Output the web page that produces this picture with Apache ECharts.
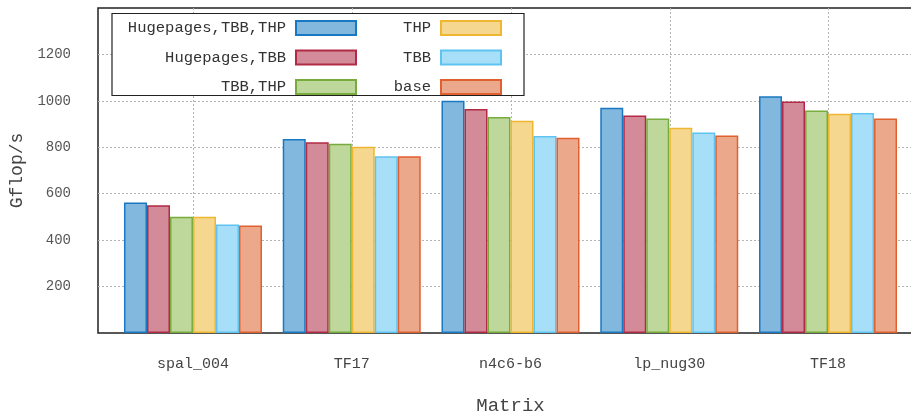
<!DOCTYPE html>
<html>
<head>
<meta charset="utf-8">
<script src="https://cdn.jsdelivr.net/npm/echarts@6/dist/echarts.min.js"></script>
<style>
  html, body { margin: 0; padding: 0; background: #fff; }
  #chart { width: 911px; height: 415px; }
</style>
</head>
<body>
<div id="chart"></div>
<script>
const matrices = ["spal_004", "TF17", "n4c6-b6", "lp_nug30", "TF18"];
const seriesNames = ["Hugepages,TBB,THP", "Hugepages,TBB", "TBB,THP", "THP", "TBB", "base"];
const hugeTbbThp = [562, 836, 1000, 970, 1020];
const hugeTbb = [550, 822, 965, 937, 997];
const tbbThp = [501, 815, 931, 924, 958];
const thp = [501, 802, 914, 884, 944];
const tbb = [467, 761, 849, 864, 948];
const base = [463, 761, 841, 851, 924];
const yTicks = [200, 400, 600, 800, 1000, 1200];

const fills = ["#82b8de", "#d38b99", "#bed79b", "#f6d78f", "#a8dff8", "#eba88a"];
const borders = ["#1a78c2", "#b22a45", "#77ac3c", "#efb730", "#5ec4ef", "#e06030"];
const values = [hugeTbbThp, hugeTbb, tbbThp, thp, tbb, base];
const font = "Liberation Mono";

const chart = echarts.init(document.getElementById("chart"));

const legendCommon = {
	orient: "vertical",
	align: "right",
	icon: "rect",
	itemWidth: 60,
	itemHeight: 14,
	itemGap: 13.5,
	padding: 0,
	top: 20,
	z: 20,
	selectedMode: false,
	textStyle: {
		fontFamily: font,
		fontSize: 15.5,
		color: "#333",
		lineHeight: 14,
		padding: [0, 5, 0, 0]
	}
};

chart.setOption({
	animation: false,
	graphic: [{
		type: "rect",
		z: 10,
		shape: { x: 112, y: 13.5, width: 412, height: 82 },
		style: { fill: "#fff", stroke: "#222", lineWidth: 1.2 }
	}],
	legend: [
		Object.assign({}, legendCommon, { data: seriesNames.slice(0, 3), right: 554 }),
		Object.assign({}, legendCommon, { data: seriesNames.slice(3), right: 409 })
	],
	grid: [{
		left: 113.6,
		right: 3.6,
		top: 8,
		bottom: 82,
		outerBoundsMode: "none",
		containLabel: false
	}, {
		left: 98,
		right: -13,
		top: 8,
		bottom: 82,
		outerBoundsMode: "none",
		containLabel: false,
		show: true,
		borderColor: "#222",
		borderWidth: 1.5,
		backgroundColor: "transparent"
	}],
	xAxis: [{
		type: "category",
		gridIndex: 0,
		data: matrices,
		axisLine: { show: false },
		axisTick: { show: false },
		splitLine: { show: false },
		axisLabel: {
			fontFamily: font,
			fontSize: 15,
			color: "#444",
			margin: 24
		},
		name: "Matrix",
		nameLocation: "middle",
		nameGap: 63,
		nameTextStyle: {
			fontFamily: font,
			fontSize: 19,
			color: "#444"
		}
	}, {
		type: "value",
		gridIndex: 1,
		min: -0.6,
		max: 4.6,
		axisLine: { show: false },
		axisTick: { show: false },
		axisLabel: { show: false },
		splitLine: {
			show: true,
			showMinLine: false,
			showMaxLine: false,
			lineStyle: { color: "#b4b4b4", type: [2, 2], width: 1 }
		}
	}],
	yAxis: [{
		type: "value",
		gridIndex: 0,
		min: 0,
		max: 1400,
		show: false,
		splitLine: { show: false }
	}, {
		type: "value",
		gridIndex: 1,
		min: 0,
		max: 1400,
		interval: 200,
		axisLine: { show: false },
		axisTick: { show: false },
		axisLabel: {
			fontFamily: font,
			fontSize: 14,
			color: "#555",
			margin: 27,
			formatter: function(v) {
				return yTicks.indexOf(v) >= 0 ? String(v) : "";
			}
		},
		splitLine: {
			show: true,
			showMinLine: false,
			showMaxLine: false,
			lineStyle: { color: "#b4b4b4", type: [2, 2], width: 1 }
		},
		name: "Gflop/s",
		nameLocation: "middle",
		nameGap: 72,
		nameTextStyle: {
			fontFamily: font,
			fontSize: 18,
			color: "#444"
		}
	}],
	series: seriesNames.map((name, i) => ({
		name,
		type: "bar",
		xAxisIndex: 0,
		yAxisIndex: 0,
		barWidth: 23,
		barGap: "0%",
		z: 3,
		itemStyle: {
			color: fills[i],
			borderColor: borders[i],
			borderWidth: 1.5
		},
		data: values[i]
	}))
});
</script>
</body>
</html>
